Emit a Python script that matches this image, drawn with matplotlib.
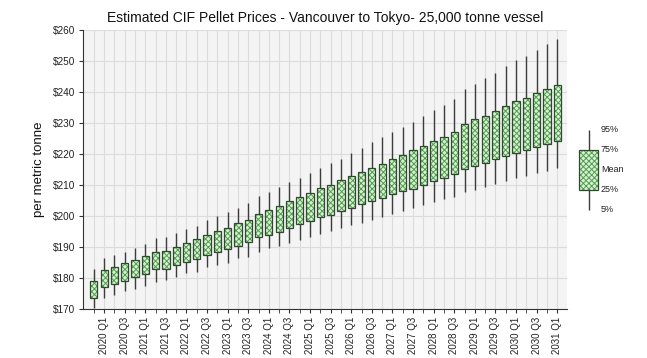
import matplotlib
matplotlib.use("Agg")
import matplotlib.pyplot as plt
import numpy as np

quarters = ["2019 Q4",
            "2020 Q1", "2020 Q2", "2020 Q3", "2020 Q4",
            "2021 Q1", "2021 Q2", "2021 Q3", "2021 Q4",
            "2022 Q1", "2022 Q2", "2022 Q3", "2022 Q4",
            "2023 Q1", "2023 Q2", "2023 Q3", "2023 Q4",
            "2024 Q1", "2024 Q2", "2024 Q3", "2024 Q4",
            "2025 Q1", "2025 Q2", "2025 Q3", "2025 Q4",
            "2026 Q1", "2026 Q2", "2026 Q3", "2026 Q4",
            "2027 Q1", "2027 Q2", "2027 Q3", "2027 Q4",
            "2028 Q1", "2028 Q2", "2028 Q3", "2028 Q4",
            "2029 Q1", "2029 Q2", "2029 Q3", "2029 Q4",
            "2030 Q1", "2030 Q2", "2030 Q3", "2030 Q4",
            "2031 Q1"]

p5 = [170.2, 173.6, 174.5, 175.8, 176.5, 177.5, 178.6, 179.4, 180.4, 181.5,
      181.8, 183.4, 184.2, 184.9, 186.3, 186.9, 188.4, 189.6, 190.3, 191.4,
      192.3, 193.2, 194.2, 195.3, 196.0, 197.0, 197.8, 198.7, 199.8, 200.6,
      201.7, 202.5, 203.5, 204.5, 205.4, 206.2, 207.8, 208.4, 209.5, 210.2,
      211.3, 212.2, 212.9, 214.0, 214.6, 215.4]
p25 = [173.4, 177.0, 178.0, 179.0, 180.2, 181.2, 182.8, 183.0, 184.1, 185.2,
       186.0, 187.4, 188.4, 189.4, 190.3, 191.5, 193.1, 194.0, 195.0, 196.1,
       197.3, 198.4, 199.6, 200.4, 201.6, 202.5, 203.8, 204.8, 205.7, 207.0,
       208.1, 208.8, 209.9, 211.2, 212.2, 213.5, 215.2, 216.1, 217.0, 218.3,
       219.4, 220.2, 221.3, 222.3, 223.2, 224.1]
p75 = [179.0, 182.5, 183.5, 184.7, 185.9, 187.0, 188.5, 188.8, 190.1, 191.4,
       192.5, 193.8, 195.2, 196.2, 197.6, 198.7, 200.6, 201.8, 203.1, 204.7,
       206.0, 207.3, 208.9, 210.1, 211.6, 212.9, 214.1, 215.5, 216.9, 218.5,
       219.8, 221.2, 222.5, 224.1, 225.4, 227.0, 229.6, 231.2, 232.3, 233.9,
       235.4, 237.0, 238.1, 239.6, 241.1, 242.3]
p95 = [182.8, 186.5, 187.4, 188.4, 189.8, 191.0, 192.8, 193.3, 194.4, 195.7,
       196.9, 198.7, 199.9, 201.3, 202.7, 204.2, 206.4, 207.7, 209.3, 211.0,
       212.4, 214.0, 215.5, 217.0, 218.5, 220.3, 221.8, 223.9, 225.4, 227.2,
       228.8, 230.2, 232.3, 234.2, 235.8, 237.6, 240.9, 242.6, 244.4, 246.2,
       248.4, 250.3, 251.6, 253.5, 255.5, 257.1]

yticks = [170, 180, 190, 200, 210, 220, 230, 240, 250, 260]
ytick_labels = ["$170", "$180", "$190", "$200", "$210", "$220", "$230", "$240", "$250", "$260"]
legend_labels = ["95%", "75%", "Mean", "25%", "5%"]

FACE = "#d9f0d3"
HATCH = "#4f9f4f"
EDGE = "#2f4a2f"
WHISK = "#3c3c3c"

plt.rcParams["font.family"] = ["Liberation Sans", "DejaVu Sans"]
plt.rcParams["hatch.linewidth"] = 0.7
plt.rcParams["hatch.color"] = HATCH

fig = plt.figure(figsize=(6.47, 3.58), dpi=100)
ax = fig.add_axes([83/647, 1-309/358, (567-83)/647, (309-30)/358])
ax.set_facecolor("#f4f4f4")

x = np.arange(len(quarters))
lo = np.array(p25)
hi = np.array(p75)

ax.vlines(x, p5, p95, color=WHISK, lw=1.0, zorder=2)
ax.bar(x, hi-lo, bottom=lo, width=0.7, color=FACE, edgecolor=HATCH,
       hatch="xxxxxx", linewidth=0, zorder=3)
ax.bar(x, hi-lo, bottom=lo, width=0.7, fill=False, edgecolor=EDGE,
       linewidth=0.9, zorder=4)

ax.set_xlim(-1.05, 45.95)
ax.set_ylim(170, 260)
ax.set_yticks(yticks)
ax.set_yticklabels(ytick_labels, fontsize=7.2, color="#222222")
ax.set_xticks(x, minor=True)
ax.set_xticks(x[1::2])
ax.set_xticklabels(quarters[1::2], rotation=90, fontsize=7, color="#222222")
ax.tick_params(axis="x", which="both", length=3, color="#333333", pad=2.5)
ax.tick_params(axis="y", length=3, color="#333333", pad=2.5)
ax.grid(True, which="both", axis="x", color="#dcdcdc", lw=0.8, zorder=0)
ax.grid(True, which="major", axis="y", color="#dcdcdc", lw=0.8, zorder=0)
ax.set_axisbelow(True)
for s in ["top", "right"]:
    ax.spines[s].set_visible(False)
for s in ["left", "bottom"]:
    ax.spines[s].set_color("#333333")

ax.set_ylabel("per metric tonne", fontsize=9.5, color="#111111")
ax.yaxis.set_label_coords((45-83)/484, 0.5)
fig.text(325.5/647, 1-18/358, "Estimated CIF Pellet Prices - Vancouver to Tokyo- 25,000 tonne vessel",
         ha="center", va="center", fontsize=10, color="#111111")

# legend glyph
lax = fig.add_axes([0, 0, 1, 1], facecolor="none")
lax.set_xlim(0, 647)
lax.set_ylim(358, 0)
lax.axis("off")
lax.vlines([588.7], [129.5], [210], color=WHISK, lw=1.0, zorder=2)
lax.bar([588.8], [40.5], bottom=[149.5], width=19, color=FACE, edgecolor=HATCH,
        hatch="xxxxxx", linewidth=0, zorder=3)
lax.bar([588.8], [40.5], bottom=[149.5], width=19, fill=False, edgecolor=EDGE,
        linewidth=0.9, zorder=4)
for lab, yy in zip(legend_labels, [130, 150, 170, 190, 210]):
    lax.text(601, yy, lab, fontsize=6.5, va="center", ha="left", color="#222222")

fig.savefig("out.png", dpi=100)
